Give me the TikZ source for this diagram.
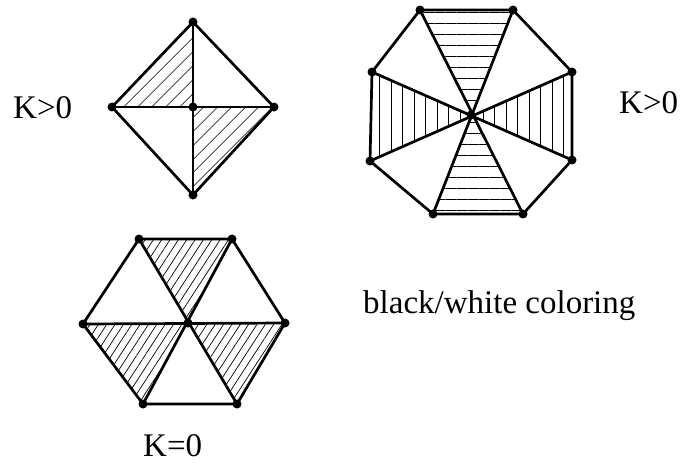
\documentclass[tikz,border=0pt]{standalone}
\usepackage{fontspec}
\setmainfont{Liberation Serif}
\usetikzlibrary{patterns.meta}

\tikzset{
  edge/.style={line width=2.7pt, line cap=round, line join=round},
  vtx/.style={circle, fill, inner sep=0pt, minimum size=9pt},
  lbl/.style={font=\fontsize{33}{40}\selectfont, inner sep=0pt, anchor=base west},
  hatchdiag/.style={pattern={Lines[angle=45,distance=10.5pt,line width=0.7pt]}},
  hatchsteep/.style={pattern={Lines[angle=57,distance=7pt,line width=0.7pt]}},
  hatchhor/.style={pattern={Lines[angle=0,distance=11pt,line width=0.7pt]}},
  hatchver/.style={pattern={Lines[angle=90,distance=11.5pt,line width=0.7pt]}}
}

\begin{document}
\begin{tikzpicture}[x=1pt,y=-1pt]
\useasboundingbox (0,0) rectangle (680,463);

% square
\coordinate (dT) at (193,22);
\coordinate (dL) at (112,107);
\coordinate (dC) at (193,107);
\coordinate (dR) at (274,107);
\coordinate (dB) at (193,195);
\fill[hatchdiag] (dT) -- (dL) -- (dC) -- cycle;
\fill[hatchdiag] (dC) -- (dR) -- (dB) -- cycle;
\draw[edge] (dT) -- (dL) -- (dB) -- (dR) -- cycle;
\draw[edge] (dT) -- (dB);
\draw[edge] (dL) -- (dR);
\foreach \v in {dT,dL,dC,dR,dB} \node[vtx] at (\v) {};

% octagon
\coordinate (o1) at (420,10);
\coordinate (o2) at (513,10);
\coordinate (o3) at (572,72);
\coordinate (o4) at (572,160);
\coordinate (o5) at (523,214);
\coordinate (o6) at (433,214);
\coordinate (o7) at (370,161);
\coordinate (o8) at (372,72);
\coordinate (oC) at (471,115);
\fill[hatchhor] (o1) -- (o2) -- (oC) -- cycle;
\fill[hatchhor] (o5) -- (o6) -- (oC) -- cycle;
\fill[hatchver] (o3) -- (o4) -- (oC) -- cycle;
\fill[hatchver] (o7) -- (o8) -- (oC) -- cycle;
\draw[edge] (o1) -- (o2) -- (o3) -- (o4) -- (o5) -- (o6) -- (o7) -- (o8) -- cycle;
\draw[edge] (o1) -- (o5);
\draw[edge] (o2) -- (o6);
\draw[edge] (o3) -- (o7);
\draw[edge] (o4) -- (o8);
\foreach \v in {o1,o2,o3,o4,o5,o6,o7,o8,oC} \node[vtx] at (\v) {};

% hexagon
\coordinate (h1) at (139,239);
\coordinate (h2) at (232,239);
\coordinate (h3) at (285,323);
\coordinate (h4) at (237,404);
\coordinate (h5) at (143,404);
\coordinate (h6) at (83,324);
\coordinate (hC) at (188,323);
\fill[hatchsteep] (h1) -- (h2) -- (hC) -- cycle;
\fill[hatchsteep] (h6) -- (hC) -- (h5) -- cycle;
\fill[hatchsteep] (hC) -- (h3) -- (h4) -- cycle;
\draw[edge] (h1) -- (h2) -- (h3) -- (h4) -- (h5) -- (h6) -- cycle;
\draw[edge] (h1) -- (h4);
\draw[edge] (h2) -- (h5);
\draw[edge] (h6) -- (h3);
\foreach \v in {h1,h2,h3,h4,h5,h6,hC} \node[vtx] at (\v) {};

% labels
\node[lbl] (kleft) at (13,118) {K>0};
\node[lbl] (kright) at (619,113) {K>0};
\node[lbl] (kzero) at (143,456) {K=0};
\node[lbl] (bw) at (363,313) {black/white coloring};
\end{tikzpicture}
\end{document}
